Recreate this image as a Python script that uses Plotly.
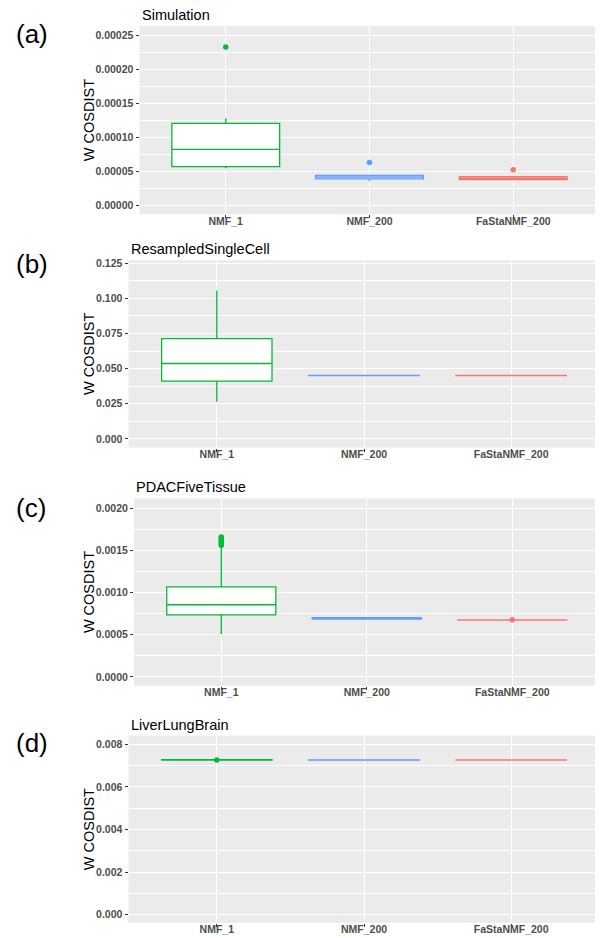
import plotly.graph_objects as go

# The page body adds an 8px margin, so the figure is drawn 8px smaller
# and all geometry is given relative to that offset.
OFF = 8
W, H = 603 - OFF, 938 - OFF

methods = ["NMF_1", "NMF_200", "FaStaNMF_200"]
colors = ["#00BA38", "#619CFF", "#F8766D"]

panel_titles = ["Simulation", "ResampledSingleCell", "PDACFiveTissue", "LiverLungBrain"]
panel_labels = ["(a)", "(b)", "(c)", "(d)"]

# Simulation
sim_q1 = [0.0000567, 0.0000385, 0.0000375]
sim_median = [0.0000821, 0.0000410, 0.0000395]
sim_q3 = [0.0001202, 0.0000435, 0.0000418]
sim_lower = [0.0000543, 0.0000350, 0.0000368]
sim_upper = [0.0001276, 0.0000445, 0.0000425]
sim_outliers = [[0.0002327], [0.0000626], [0.0000519]]

# ResampledSingleCell
rsc_q1 = [0.0411, 0.0450, 0.0450]
rsc_median = [0.0536, 0.0451, 0.0451]
rsc_q3 = [0.0713, 0.0452, 0.0452]
rsc_lower = [0.0264, 0.0450, 0.0450]
rsc_upper = [0.1056, 0.0452, 0.0452]
rsc_outliers = [[], [], []]

# PDACFiveTissue
pdac_q1 = [0.000736, 0.000686, 0.000672]
pdac_median = [0.000855, 0.000694, 0.000674]
pdac_q3 = [0.001067, 0.000702, 0.000676]
pdac_lower = [0.000505, 0.000682, 0.000670]
pdac_upper = [0.001568, 0.000706, 0.000678]
pdac_outliers = [[0.00156, 0.00158, 0.00160, 0.00162, 0.00164, 0.00166], [], [0.000676]]

# LiverLungBrain
llb_q1 = [0.007262, 0.007258, 0.007258]
llb_median = [0.007270, 0.007262, 0.007262]
llb_q3 = [0.007278, 0.007266, 0.007266]
llb_lower = [0.007258, 0.007255, 0.007255]
llb_upper = [0.007282, 0.007268, 0.007268]
llb_outliers = [[0.00727], [], []]

# y-axis ticks per panel
y_ticks = [
    [0.0, 0.00005, 0.00010, 0.00015, 0.00020, 0.00025],
    [0.0, 0.025, 0.050, 0.075, 0.100, 0.125],
    [0.0, 0.0005, 0.0010, 0.0015, 0.0020],
    [0.0, 0.002, 0.004, 0.006, 0.008],
]
y_ticktext = [
    ["0.00000", "0.00005", "0.00010", "0.00015", "0.00020", "0.00025"],
    ["0.000", "0.025", "0.050", "0.075", "0.100", "0.125"],
    ["0.0000", "0.0005", "0.0010", "0.0015", "0.0020"],
    ["0.000", "0.002", "0.004", "0.006", "0.008"],
]
y_ranges = [
    [-0.0000136, 0.0002635],
    [-0.0062, 0.1271],
    [-0.000106, 0.002116],
    [-0.000374, 0.008407],
]

panels = [
    (sim_q1, sim_median, sim_q3, sim_lower, sim_upper, sim_outliers),
    (rsc_q1, rsc_median, rsc_q3, rsc_lower, rsc_upper, rsc_outliers),
    (pdac_q1, pdac_median, pdac_q3, pdac_lower, pdac_upper, pdac_outliers),
    (llb_q1, llb_median, llb_q3, llb_lower, llb_upper, llb_outliers),
]

# layout geometry (screen pixels of the target)
plot_left = [139.5, 128.5, 134.0, 128.5]
plot_right = 599.5
plot_top = [23, 258, 497, 735]
plot_bottom = [212, 446, 685, 922.7]
label_y = [31, 262, 507, 742]


def px(v):
    return (v - OFF) / W


def py(v):
    return 1 - (v - OFF) / H


FONT = "Liberation Sans, Arial, sans-serif"
fig = go.Figure()
layout = dict(
    width=W, height=H,
    margin=dict(l=0, r=0, t=0, b=0),
    paper_bgcolor="white",
    plot_bgcolor="#EBEBEB",
    showlegend=False,
    font=dict(family=FONT, color="black"),
)
annotations = []

for i, (q1, med, q3, lo, up, outl) in enumerate(panels):
    n = i + 1
    xa = "x" if n == 1 else f"x{n}"
    ya = "y" if n == 1 else f"y{n}"
    for j, m in enumerate(methods):
        fig.add_trace(go.Box(
            x=[m], q1=[q1[j]], median=[med[j]], q3=[q3[j]],
            lowerfence=[lo[j]], upperfence=[up[j]],
            boxpoints=False, whiskerwidth=0, width=0.75,
            fillcolor="white", line=dict(color=colors[j], width=1.3),
            xaxis=xa, yaxis=ya, hoverinfo="skip",
        ))
        if outl[j]:
            fig.add_trace(go.Scatter(
                x=[m] * len(outl[j]), y=outl[j], mode="markers",
                marker=dict(color=colors[j], size=5.5),
                xaxis=xa, yaxis=ya, hoverinfo="skip",
            ))
    xkey = "xaxis" if n == 1 else f"xaxis{n}"
    ykey = "yaxis" if n == 1 else f"yaxis{n}"
    step = y_ticks[i][1] - y_ticks[i][0]
    minor_vals = [v + step / 2 for v in y_ticks[i]]
    layout[xkey] = dict(
        domain=[px(plot_left[i]), px(plot_right)], anchor=ya,
        type="category", categoryorder="array", categoryarray=methods,
        range=[-0.6, 2.6], showgrid=True, gridcolor="white", gridwidth=1.1,
        ticks="outside", ticklen=3, tickcolor="#333333", tickwidth=1,
        ticklabelstandoff=-6,
        tickfont=dict(family=FONT, size=10.5, color="#4D4D4D", weight="bold"),
        showline=False, zeroline=False, fixedrange=True,
    )
    layout[ykey] = dict(
        domain=[py(plot_bottom[i]), py(plot_top[i])], anchor=xa,
        range=y_ranges[i], tickmode="array", tickvals=y_ticks[i], ticktext=y_ticktext[i],
        showgrid=True, gridcolor="white", gridwidth=1.1,
        minor=dict(showgrid=True, gridcolor="white", gridwidth=0.55,
                   tickmode="array", tickvals=minor_vals, ticks=""),
        ticks="outside", ticklen=3, tickcolor="#333333", tickwidth=1,
        tickfont=dict(family=FONT, size=10.5, color="#4D4D4D", weight="bold"),
        showline=False, zeroline=False, fixedrange=True,
    )
    annotations.append(dict(
        text=panel_titles[i], xref="paper", yref="paper",
        x=px(plot_left[i]), y=py(plot_top[i] - 11),
        xanchor="left", yanchor="middle", showarrow=False,
        font=dict(family=FONT, size=14.5, color="black"),
    ))
    annotations.append(dict(
        text=panel_labels[i], xref="paper", yref="paper",
        x=px(14), y=py(label_y[i]),
        xanchor="left", yanchor="middle", showarrow=False,
        font=dict(family=FONT, size=26, color="black"),
    ))
    annotations.append(dict(
        text="W COSDIST", xref="paper", yref="paper",
        x=px(89), y=py((plot_top[i] + plot_bottom[i]) / 2),
        xanchor="center", yanchor="middle", showarrow=False, textangle=-90,
        font=dict(family=FONT, size=14.5, color="black"),
    ))

layout["annotations"] = annotations
fig.update_layout(**layout)
fig.write_html("out.html")
